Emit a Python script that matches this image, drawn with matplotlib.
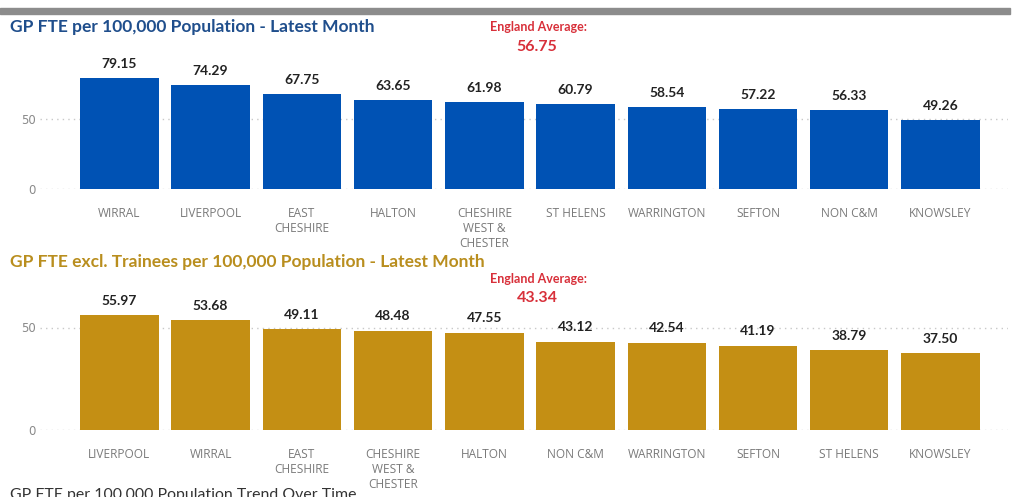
import matplotlib.pyplot as plt
import numpy as np

# data
areas_fte = ['WIRRAL', 'LIVERPOOL', 'EAST\nCHESHIRE', 'HALTON', 'CHESHIRE\nWEST &\nCHESTER',
             'ST HELENS', 'WARRINGTON', 'SEFTON', 'NON C&M', 'KNOWSLEY']
fte = [79.15, 74.29, 67.75, 63.65, 61.98, 60.79, 58.54, 57.22, 56.33, 49.26]
eng_avg_fte = 56.75

areas_excl = ['LIVERPOOL', 'WIRRAL', 'EAST\nCHESHIRE', 'CHESHIRE\nWEST &\nCHESTER', 'HALTON',
              'NON C&M', 'WARRINGTON', 'SEFTON', 'ST HELENS', 'KNOWSLEY']
fte_excl = [55.97, 53.68, 49.11, 48.48, 47.55, 43.12, 42.54, 41.19, 38.79, 37.50]
eng_avg_excl = 43.34

W, H = 1014, 497
fig = plt.figure(figsize=(W / 100, H / 100), dpi=100)


def px(x, y):
    # pixel coords (from top-left) -> figure fraction
    return x / W, 1 - y / H


# grey strip at top
fig.add_artist(plt.Rectangle(px(0, 14), 1010 / W, 6 / H, color='#8c8c8c', transform=fig.transFigure))


def draw(ax, names, vals, color, ymax):
    x = np.arange(len(vals))
    ax.bar(x, vals, width=0.86, color=color, zorder=2)
    for xi, v in zip(x, vals):
        ax.annotate(f'{v:.2f}', (xi, v), xytext=(0, 6), textcoords='offset points',
                    ha='center', va='bottom', fontsize=10, fontweight='bold',
                    family='Lato', color='#222222')
    ax.set_xlim(-0.87, 9.74)
    ax.set_ylim(0, ymax)
    ax.set_yticks([0, 50])
    ax.set_xticks(x)
    ax.set_xticklabels(names, fontsize=8.6, color='#7a7a7a', family='Open Sans', linespacing=1.2)
    ax.tick_params(axis='y', labelsize=8.5, labelcolor='#8a8a8a', length=0, pad=3)
    ax.tick_params(axis='x', length=0, pad=13)
    for s in ax.spines.values():
        s.set_visible(False)
    ax.yaxis.grid(True, linestyle=(0, (1, 3)), color='#c8c8c8', linewidth=1, zorder=0)
    ax.set_axisbelow(True)


# top chart: zero at y=189, 1.4 px per unit
ax1 = fig.add_axes([40 / W, 1 - 189 / H, 968 / W, 134 / H])
draw(ax1, areas_fte, fte, '#0052B4', 134 / 1.4)

# bottom chart: zero at y=430, 2.05 px per unit
ax2 = fig.add_axes([40 / W, 1 - 430 / H, 968 / W, 130 / H])
draw(ax2, areas_excl, fte_excl, '#C48F14', 130 / 2.05)

# titles and England averages
fig.text(*px(10, 27), 'GP FTE per 100,000 Population - Latest Month', fontsize=12.5,
         fontweight='bold', color='#1F4E8C', family='Lato', va='center')
fig.text(*px(538, 27), 'England Average:', fontsize=9, fontweight='bold',
         color='#D8303A', family='Lato', ha='center', va='center')
fig.text(*px(537, 47), f'{eng_avg_fte:.2f}', fontsize=11.5, fontweight='bold',
         color='#D8303A', family='Lato', ha='center', va='center')

fig.text(*px(10, 262), 'GP FTE excl. Trainees per 100,000 Population - Latest Month', fontsize=12.5,
         fontweight='bold', color='#B98E1E', family='Lato', va='center')
fig.text(*px(538, 279), 'England Average:', fontsize=9, fontweight='bold',
         color='#D8303A', family='Lato', ha='center', va='center')
fig.text(*px(537, 298), f'{eng_avg_excl:.2f}', fontsize=11.5, fontweight='bold',
         color='#D8303A', family='Lato', ha='center', va='center')

# next section heading, cut by the bottom edge as in the reference
fig.text(*px(10, 495), 'GP FTE per 100,000 Population Trend Over Time', fontsize=11.4,
         color='#333333', family='Lato', va='center')

fig.savefig('out.png', dpi=100)
